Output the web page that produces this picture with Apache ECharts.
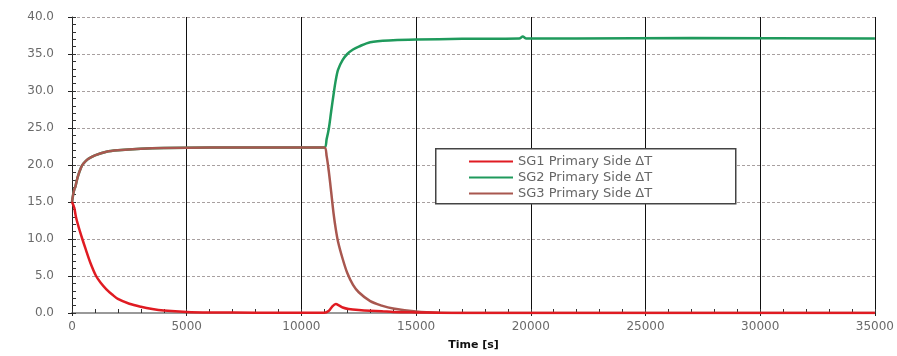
<!DOCTYPE html>
<html><head><meta charset="utf-8">
<script src="https://cdn.jsdelivr.net/npm/echarts@6/dist/echarts.min.js"></script>
<style>html,body{margin:0;padding:0;background:#fff}#c{width:897px;height:356px}</style>
</head><body><div id="c"></div>
<script>
var seriesNames = ['SG1 Primary Side \u0394T', 'SG2 Primary Side \u0394T', 'SG3 Primary Side \u0394T'];
var xTicks = [0, 5000, 10000, 15000, 20000, 25000, 30000, 35000];
var yTicks = [0, 5, 10, 15, 20, 25, 30, 35, 40];

var sg1Time = [0,100,170,300,450,600,800,1050,1250,1500,1750,2000,2500,3000,3500,4000,5000,6000,8000,11000,11200,11350,11500,11650,11800,12060,12500,13000,13500,14000,15000,16000,18000,35000];
var sg1Val  = [15,14.2,13,11.5,10,8.6,6.8,5,4.1,3.2,2.5,1.9,1.25,0.85,0.55,0.35,0.15,0.08,0.04,0.02,0.3,0.9,1.2,1.0,0.75,0.55,0.4,0.3,0.25,0.15,0.08,0.03,0.01,0];

var sg2Time = [0,50,100,150,250,400,500,700,1000,1500,2000,3000,4000,6000,8000,10000,11000,11100,11200,11300,11400,11500,11600,11800,12000,12250,12500,13000,14000,15000,17000,19500,19650,19800,22000,27000,35000];
var sg2Val  = [15,16,16.7,17.1,18.4,19.7,20.2,20.8,21.3,21.8,22.0,22.2,22.3,22.35,22.35,22.35,22.35,23.5,25,27.3,29.5,31.5,32.9,34.2,35,35.6,36.0,36.6,36.85,36.95,37.05,37.1,37.35,37.1,37.1,37.15,37.1];

var sg3Time = [0,50,100,150,250,400,500,700,1000,1500,2000,3000,4000,6000,8000,10000,11000,11100,11200,11300,11400,11500,11600,11800,12000,12250,12500,13000,13500,14000,15000,16000,18000,35000];
var sg3Val  = [15,16,16.7,17.1,18.4,19.7,20.2,20.8,21.3,21.8,22.0,22.2,22.3,22.35,22.35,22.35,22.35,21.2,19,16.3,13.5,11.3,9.6,7.3,5.4,3.8,2.8,1.6,1.0,0.6,0.2,0.05,0.01,0];

function pairs(t, v) { return t.map(function (x, i) { return [x, v[i]]; }); }

var chart = echarts.init(document.getElementById('c'));
var labelFont = {color: '#6a6a6a', fontSize: 12, fontFamily: 'DejaVu Sans'};
var xMin = xTicks[0], xMax = xTicks[xTicks.length - 1];
var yMin = yTicks[0], yMax = yTicks[yTicks.length - 1];
chart.setOption({
  animation: false,
  backgroundColor: '#fff',
  grid: {left: 72, right: 19, top: 17, bottom: 38, containLabel: false},
  xAxis: [{
    type: 'value', min: xMin, max: xMax, interval: 5000,
    name: 'Time [s]', nameLocation: 'middle', nameGap: 27,
    nameTextStyle: {color: '#111', fontWeight: 'bold', fontSize: 11, fontFamily: 'DejaVu Sans'},
    axisLine: {show: true, onZero: false, lineStyle: {color: '#222', width: 1}},
    axisTick: {show: true, inside: false, length: 3, lineStyle: {color: '#222'}},
    splitLine: {show: true, lineStyle: {color: '#111', width: 1, type: 'solid'}},
    axisLabel: Object.assign({margin: 8, showMaxLabel: true, formatter: function (v) { return String(v); }}, labelFont)
  }, {
    type: 'value', position: 'top', min: xMin, max: xMax,
    axisLine: {show: true, lineStyle: {color: '#999', width: 2}},
    axisTick: {show: false}, axisLabel: {show: false}, splitLine: {show: false}
  }, {
    type: 'value', position: 'bottom', min: xMin, max: xMax, interval: 1000,
    axisLine: {show: false, onZero: false},
    axisTick: {show: true, inside: true, length: 4, lineStyle: {color: '#333'}},
    axisLabel: {show: false}, splitLine: {show: false}
  }],
  yAxis: [{
    type: 'value', min: yMin, max: yMax, interval: 5,
    axisLine: {show: true, onZero: false, lineStyle: {color: '#222', width: 1}},
    axisTick: {show: true, inside: false, length: 4, lineStyle: {color: '#222'}},
    splitLine: {show: true, lineStyle: {color: '#a8a0a0', width: 1.2, type: [3, 2]}},
    axisLabel: Object.assign({margin: 18, formatter: function (v) { return v.toFixed(1); }}, labelFont)
  }, {
    type: 'value', position: 'left', min: yMin, max: yMax, interval: 1,
    axisLine: {show: false, onZero: false},
    axisTick: {show: true, inside: true, length: 4, lineStyle: {color: '#333'}},
    axisLabel: {show: false}, splitLine: {show: false}
  }],
  legend: {
    data: seriesNames, orient: 'vertical', left: 464, top: 150, itemGap: 3,
    itemWidth: 44, itemHeight: 10, z: 20,
    textStyle: {color: '#666', fontSize: 13, fontFamily: 'DejaVu Sans'},
    icon: 'path://M0,4 L44,4 L44,6 L0,6 Z'
  },
  graphic: [{
    type: 'rect', left: 435, top: 148, z: 15,
    shape: {width: 300, height: 55},
    style: {fill: '#fff', stroke: '#444', lineWidth: 1.5}
  }],
  series: [{
    name: seriesNames[1], type: 'line', showSymbol: false, smooth: 0.3,
    data: pairs(sg2Time, sg2Val), lineStyle: {color: '#1f9a5c', width: 2.5}, itemStyle: {color: '#1f9a5c'}
  }, {
    name: seriesNames[2], type: 'line', showSymbol: false, smooth: 0.3,
    data: pairs(sg3Time, sg3Val), lineStyle: {color: '#a8574f', width: 2.5}, itemStyle: {color: '#a8574f'}
  }, {
    name: seriesNames[0], type: 'line', showSymbol: false, smooth: 0.3,
    data: pairs(sg1Time, sg1Val), lineStyle: {color: '#e01b22', width: 2.5}, itemStyle: {color: '#e01b22'}
  }]
});
</script></body></html>
